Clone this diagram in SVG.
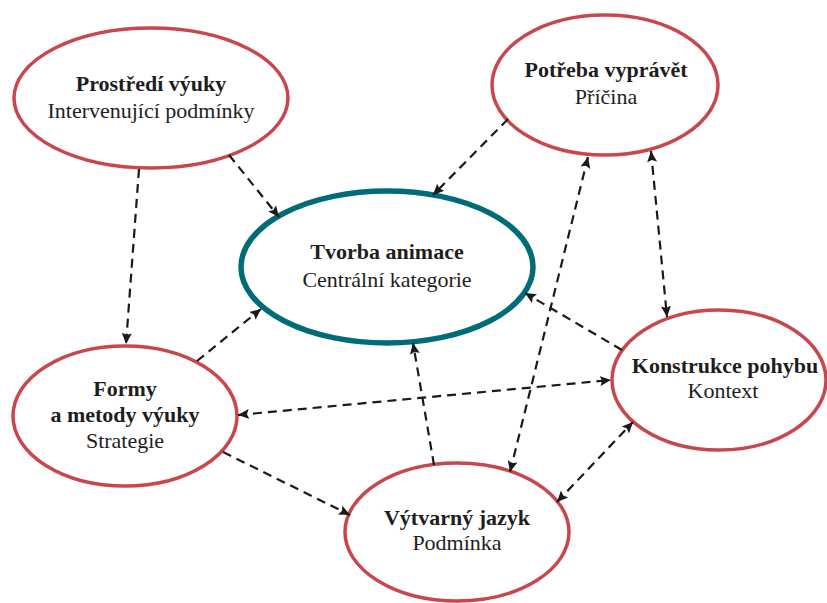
<svg xmlns="http://www.w3.org/2000/svg" width="827" height="603" viewBox="0 0 827 603">
<style>
.n{fill:#fff;stroke:#c8474c;stroke-width:3.5}
.c{fill:#fff;stroke:#006c78;stroke-width:5.5}
text{font-family:"Liberation Serif","Times New Roman",serif;font-size:22px;fill:#1e1e1e;text-anchor:middle}
.b{font-weight:bold}
.e{fill:none;stroke:#1a1a1a;stroke-width:2.2;stroke-dasharray:9 6}
</style>
<defs>
<marker id="a" markerUnits="userSpaceOnUse" markerWidth="12" markerHeight="12" refX="11" refY="6" orient="auto-start-reverse" viewBox="0 0 12 12">
<path d="M0,1 L11,6 L0,11 L2,6 z" fill="#1a1a1a"/>
</marker>
</defs>
<rect width="827" height="603" fill="#fff"/>
<g id="nodes">
<g id="prostredi"><ellipse class="n" cx="151" cy="98" rx="137" ry="70"/><text x="151" y="91" class="b">Prostředí výuky</text><text x="151" y="118">Intervenující podmínky</text></g>
<g id="potreba"><ellipse class="n" cx="605" cy="85" rx="113" ry="70"/><text x="606" y="77" class="b">Potřeba vyprávět</text><text x="606" y="104">Příčina</text></g>
<g id="tvorba"><ellipse class="c" cx="387" cy="267" rx="146" ry="76"/><text x="387" y="259" class="b">Tvorba animace</text><text x="387" y="287">Centrální kategorie</text></g>
<g id="formy"><ellipse class="n" cx="125" cy="416" rx="112" ry="70"/><text x="125" y="396" class="b">Formy</text><text x="125" y="422" class="b">a metody výuky</text><text x="125" y="448">Strategie</text></g>
<g id="konstrukce"><ellipse class="n" cx="719" cy="380" rx="107" ry="70"/><text x="725" y="373" class="b">Konstrukce pohybu</text><text x="723" y="398">Kontext</text></g>
<g id="vytvarny"><ellipse class="n" cx="457" cy="532" rx="112" ry="69"/><text x="457" y="525" class="b">Výtvarný jazyk</text><text x="457" y="550">Podmínka</text></g>
</g>
<g id="connectors">
<line class="e" x1="139" y1="169" x2="126" y2="344" marker-end="url(#a)"/>
<line class="e" x1="229" y1="155" x2="279" y2="217" marker-end="url(#a)"/>
<line class="e" x1="508" y1="119" x2="433" y2="195" marker-end="url(#a)"/>
<line class="e" x1="588" y1="157" x2="510" y2="472" marker-start="url(#a)" marker-end="url(#a)"/>
<line class="e" x1="651" y1="151" x2="667" y2="317" marker-start="url(#a)" marker-end="url(#a)"/>
<line class="e" x1="622" y1="350" x2="525" y2="293" marker-end="url(#a)"/>
<line class="e" x1="238" y1="415" x2="611" y2="380" marker-start="url(#a)" marker-end="url(#a)"/>
<line class="e" x1="197" y1="361" x2="261" y2="309" marker-end="url(#a)"/>
<line class="e" x1="223" y1="452" x2="350" y2="515" marker-end="url(#a)"/>
<line class="e" x1="434" y1="465" x2="413" y2="343" marker-end="url(#a)"/>
<line class="e" x1="557" y1="502" x2="633" y2="422" marker-start="url(#a)" marker-end="url(#a)"/>
</g>
</svg>
